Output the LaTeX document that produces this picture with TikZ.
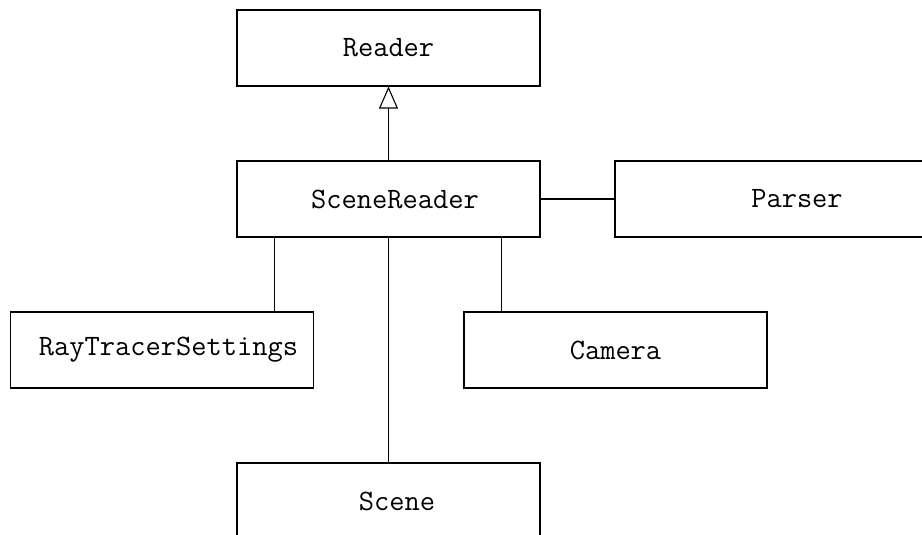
\documentclass[tikz,border=0pt]{standalone}
\usetikzlibrary{arrows.meta,calc}
\begin{document}
\begin{tikzpicture}[x=1pt,y=-1pt,
  classbox/.style={draw,line width=1.1pt,rectangle,minimum width=303pt,minimum height=76pt,
    inner sep=0pt,font=\fontsize{29.6}{35}\selectfont\ttfamily},
  assoc/.style={line width=1.1pt},
  inherit/.style={line width=1.1pt,-{Triangle[open,length=22pt,width=19pt,line width=1.1pt]}}]
\clip (0,0) rectangle (922,535);
\node[classbox] (reader) at (388.5,48) {Reader};
\node[classbox] (sr) at (388.5,199) {\hspace*{13pt}SceneReader};
\node[classbox,minimum width=364pt] (parser) at (797,199) {Parser};
\node[classbox] (rts) at (162,350) {\hspace*{13pt}RayTracerSettings};
\node[classbox] (camera) at (615.5,350) {Camera};
\node[classbox] (scene) at (388.5,501) {\hspace*{17pt}Scene};

\coordinate (srl) at ($(sr.south west)!0.125!(sr.south east)$);
\coordinate (srr) at ($(sr.south west)!0.873!(sr.south east)$);

\draw[inherit] (sr.north) -- (reader.south);
\draw[assoc] (sr.east) -- (parser.west);
\draw[assoc] (srl) -- (srl |- rts.north);
\draw[assoc] (srr) -- (srr |- camera.north);
\draw[assoc] (sr.south) -- (scene.north);
\end{tikzpicture}
\end{document}
